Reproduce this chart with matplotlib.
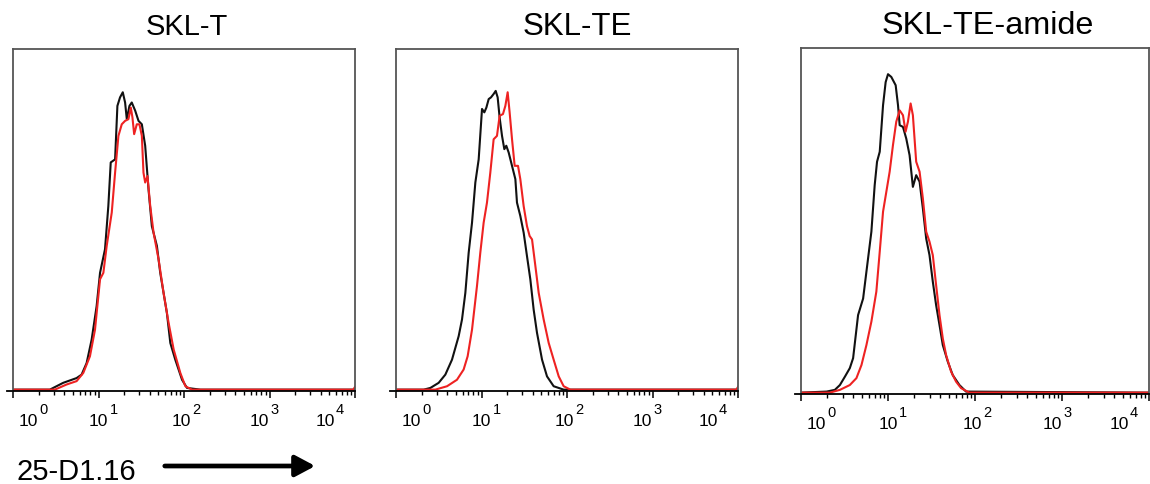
# Flow cytometry overlay histograms (25-D1.16 staining), three peptides
import matplotlib
matplotlib.use('Agg')
import matplotlib.pyplot as plt
import matplotlib.transforms as mtransforms
from matplotlib.patches import FancyArrowPatch
from matplotlib.ticker import LogLocator, NullFormatter
import numpy as np

plt.rcParams['font.family'] = ['Liberation Sans', 'DejaVu Sans']

# panel titles
titles = ['SKL-T', 'SKL-TE', 'SKL-TE-amide']

# x values are log10 of the fluorescence, y values are relative counts (0..1 of the frame)
skl_t_black_log = [0.0, 0.431, 0.587, 0.744, 0.802, 0.861, 0.920, 0.978, 1.018, 1.076, 1.115, 1.143,
                   1.194, 1.221, 1.252, 1.284, 1.311, 1.331, 1.362, 1.389, 1.429, 1.468, 1.507, 1.546,
                   1.585, 1.624, 1.683, 1.722, 1.800, 1.840, 1.898, 1.977, 2.035, 2.192, 4.0]
skl_t_black_y = [0, 0, 0.020, 0.034, 0.044, 0.078, 0.147, 0.245, 0.343, 0.412, 0.539, 0.667,
                 0.676, 0.833, 0.858, 0.873, 0.843, 0.794, 0.833, 0.843, 0.819, 0.789, 0.779, 0.716,
                 0.588, 0.480, 0.422, 0.343, 0.225, 0.137, 0.088, 0.029, 0.005, 0, 0]
skl_t_red_log = [0.0, 0.489, 0.626, 0.744, 0.822, 0.900, 0.959, 1.018, 1.057, 1.096, 1.155, 1.194,
                 1.233, 1.272, 1.311, 1.350, 1.378, 1.397, 1.417, 1.448, 1.479, 1.507, 1.526, 1.546,
                 1.573, 1.605, 1.644, 1.703, 1.761, 1.820, 1.879, 1.957, 2.016, 2.094, 3.98, 4.0]
skl_t_red_y = [0, 0, 0.015, 0.025, 0.049, 0.098, 0.176, 0.324, 0.343, 0.422, 0.520, 0.637,
               0.745, 0.779, 0.789, 0.794, 0.828, 0.799, 0.750, 0.779, 0.779, 0.745, 0.637, 0.608,
               0.627, 0.539, 0.461, 0.382, 0.284, 0.196, 0.118, 0.049, 0.010, 0, 0, 0.008]

skl_te_black_log = [0.0, 0.324, 0.402, 0.499, 0.577, 0.655, 0.733, 0.772, 0.811, 0.850, 0.889, 0.928,
                    0.967, 1.006, 1.033, 1.057, 1.084, 1.111, 1.142, 1.166, 1.189, 1.212, 1.240, 1.267,
                    1.290, 1.318, 1.357, 1.396, 1.415, 1.454, 1.493, 1.532, 1.571, 1.610, 1.649, 1.708,
                    1.766, 1.844, 1.961, 4.0]
skl_te_black_y = [0, 0, 0.005, 0.020, 0.044, 0.088, 0.157, 0.206, 0.284, 0.402, 0.490, 0.608,
                  0.676, 0.824, 0.814, 0.828, 0.853, 0.858, 0.868, 0.877, 0.858, 0.799, 0.745, 0.706,
                  0.716, 0.696, 0.657, 0.618, 0.549, 0.510, 0.461, 0.392, 0.324, 0.235, 0.167, 0.088,
                  0.039, 0.010, 0, 0]
skl_te_red_log = [0.0, 0.460, 0.597, 0.713, 0.791, 0.838, 0.889, 0.947, 0.986, 1.025, 1.064, 1.103,
                  1.142, 1.181, 1.212, 1.251, 1.279, 1.306, 1.329, 1.357, 1.388, 1.427, 1.454, 1.493,
                  1.532, 1.563, 1.591, 1.630, 1.669, 1.727, 1.786, 1.844, 1.903, 1.961, 2.039, 3.98, 4.0]
skl_te_red_y = [0, 0, 0.010, 0.029, 0.059, 0.098, 0.176, 0.304, 0.402, 0.490, 0.549, 0.637,
                0.735, 0.745, 0.804, 0.809, 0.833, 0.873, 0.814, 0.735, 0.657, 0.657, 0.618, 0.539,
                0.480, 0.451, 0.441, 0.363, 0.284, 0.206, 0.137, 0.088, 0.039, 0.010, 0, 0, 0.008]

amide_black_log = [0.0, 0.294, 0.389, 0.447, 0.504, 0.561, 0.599, 0.656, 0.714, 0.752, 0.809, 0.847,
                   0.874, 0.905, 0.943, 0.973, 1.000, 1.038, 1.088, 1.115, 1.134, 1.172, 1.210, 1.248,
                   1.286, 1.324, 1.363, 1.401, 1.439, 1.477, 1.515, 1.553, 1.592, 1.630, 1.687, 1.744,
                   1.821, 1.897, 4.0]
amide_black_y = [0, 0.003, 0.008, 0.022, 0.046, 0.071, 0.100, 0.225, 0.273, 0.351, 0.467, 0.602,
                 0.670, 0.699, 0.834, 0.901, 0.924, 0.916, 0.892, 0.834, 0.776, 0.771, 0.737, 0.689,
                 0.597, 0.631, 0.612, 0.534, 0.447, 0.399, 0.322, 0.254, 0.196, 0.138, 0.090, 0.051,
                 0.022, 0.003, 0]
amide_red_log = [0.0, 0.332, 0.447, 0.561, 0.637, 0.695, 0.752, 0.809, 0.866, 0.905, 0.943, 0.981,
                 1.019, 1.057, 1.095, 1.134, 1.172, 1.202, 1.229, 1.260, 1.286, 1.324, 1.363, 1.401,
                 1.439, 1.477, 1.515, 1.553, 1.592, 1.630, 1.668, 1.725, 1.782, 1.840, 1.935, 4.0]
amide_red_y = [0, 0, 0.008, 0.022, 0.042, 0.080, 0.138, 0.206, 0.293, 0.409, 0.525, 0.583,
               0.641, 0.718, 0.786, 0.819, 0.805, 0.757, 0.786, 0.839, 0.805, 0.670, 0.641, 0.563,
               0.467, 0.438, 0.399, 0.312, 0.225, 0.157, 0.109, 0.061, 0.032, 0.013, 0, 0]

# decade ticks: "10" as the tick label, exponent drawn as its own superscript
tick_values = [1, 10, 100, 1000, 10000]
tick_exponents = ['0', '1', '2', '3', '4']

W, H = 1150, 485
fig = plt.figure(figsize=(W / 100, H / 100), dpi=100)

# frame positions in pixels: left, top, right, bottom
frames = [(13, 50, 355, 392), (396, 50, 738, 392), (801, 49, 1149, 395)]
title_x = [0.507, 0.529, 0.537]
title_size = [21, 22.5, 23.3]
panels = [
    (skl_t_black_log, skl_t_black_y, skl_t_red_log, skl_t_red_y),
    (skl_te_black_log, skl_te_black_y, skl_te_red_log, skl_te_red_y),
    (amide_black_log, amide_black_y, amide_red_log, amide_red_y),
]
# the labels sit a bit off their ticks in the original (pixels)
label_shift_px = [15, 0, -3, -10, -30]


def px(dx, dy):
    # shift in pixels (figure is 100 dpi)
    return mtransforms.ScaledTranslation(dx / 100, dy / 100, fig.dpi_scale_trans)


for (l, t, r, b), title, tx, ts, (bl, by, rl, ry) in zip(frames, titles, title_x, title_size, panels):
    ax = fig.add_axes([l / W, (H - b) / H, (r - l) / W, (b - t) / H])
    ax.plot(10 ** np.array(bl), by, color='#111111', lw=1.5)
    ax.plot(10 ** np.array(rl), ry, color='#ee2222', lw=1.5)
    ax.set_xscale('log')
    ax.set_xlim(1, 1e4)
    ax.set_ylim(-0.004, 1)
    ax.set_yticks([])

    # frame
    for side in ['left', 'top', 'right']:
        ax.spines[side].set_color('#555555')
        ax.spines[side].set_linewidth(1.3)
    ax.spines['bottom'].set_color('black')
    ax.spines['bottom'].set_linewidth(1.3)
    # axis line runs a little past the left frame
    ax.plot([-0.018, 0], [0, 0], transform=ax.transAxes, color='black', lw=1.3, clip_on=False)

    ax.set_xticks(tick_values)
    ax.set_xticklabels(['10'] * len(tick_values), fontsize=12.5)
    ax.xaxis.set_minor_locator(LogLocator(base=10, subs=np.arange(2, 10)))
    ax.xaxis.set_minor_formatter(NullFormatter())
    ax.tick_params(axis='x', which='major', direction='out', length=5, width=1.1, pad=11, colors='black')
    ax.tick_params(axis='x', which='minor', direction='out', length=3, width=1.0, colors='black')

    base = mtransforms.blended_transform_factory(ax.transData, ax.transAxes)
    for lab, v, e, dx in zip(ax.get_xticklabels(), tick_values, tick_exponents, label_shift_px):
        lab.set_transform(lab.get_transform() + px(dx, 0))
        ax.text(v, 0, e, transform=base + px(dx + 11, -11), fontsize=10.5,
                ha='left', va='top', clip_on=False)

    ax.set_title(title, fontsize=ts, x=tx, pad=10.5)

# marker label with arrow under the first panel
fig.text(16 / W, 1 - 480 / H, '25-D1.16', fontsize=21, va='baseline', ha='left')
fig.add_artist(FancyArrowPatch(
    (162 / W, 1 - 467 / H), (318 / W, 1 - 467 / H), transform=fig.transFigure,
    arrowstyle='-|>,head_length=0.6,head_width=0.32', mutation_scale=20, lw=3.4, color='black'))

fig.savefig('out.png', dpi=100)
